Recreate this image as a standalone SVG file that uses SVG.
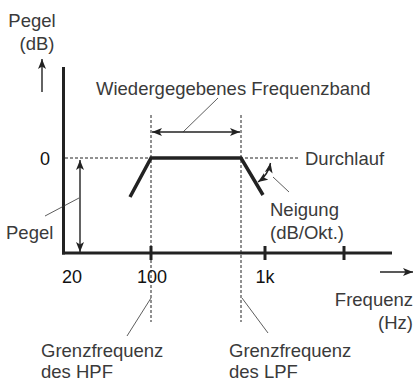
<svg xmlns="http://www.w3.org/2000/svg" width="414" height="383" viewBox="0 0 414 383">
<style>
.t{font-family:"Liberation Sans",Arial,sans-serif;font-size:18.5px;fill:#3a3a3a}
.n{font-family:"Liberation Sans",Arial,sans-serif;font-size:18px;fill:#111}
.ax{stroke:#222;stroke-width:3;fill:none}
.dash{stroke:#222;stroke-width:1;stroke-dasharray:3 2;fill:none}
.ar{stroke:#222;stroke-width:1.4;fill:none}
.ld{stroke:#333;stroke-width:0.8;fill:none}
.curve{stroke:#222;stroke-width:3.5;fill:none;stroke-linecap:butt}
</style>
<defs>
<marker id="ah" viewBox="0 0 10 8" refX="10" refY="4" markerWidth="10" markerHeight="8" markerUnits="userSpaceOnUse" orient="auto-start-reverse">
<path d="M0,0 L10,4 L0,8 L2.5,4 Z" fill="#222"/>
</marker>
</defs>
<g id="axes">
<line class="ax" x1="63.5" y1="67" x2="63.5" y2="254.5"/>
<line class="ax" x1="62" y1="253" x2="392" y2="253"/>
<line class="ax" x1="151" y1="246" x2="151" y2="260"/>
<line class="ax" x1="265" y1="246" x2="265" y2="260"/>
<line class="ax" x1="344" y1="246" x2="344" y2="260"/>
</g>
<g id="connectors">
<line class="dash" x1="151" y1="115" x2="151" y2="322"/>
<line class="dash" x1="241" y1="115" x2="241" y2="322"/>
<line class="dash" x1="65" y1="158" x2="300" y2="158"/>
<line class="ar" x1="42" y1="92" x2="42" y2="59" marker-end="url(#ah)"/>
<line class="ar" x1="152" y1="132" x2="240" y2="132" marker-start="url(#ah)" marker-end="url(#ah)"/>
<line class="ar" x1="80" y1="160" x2="80" y2="252" marker-start="url(#ah)" marker-end="url(#ah)"/>
<line class="ar" x1="380" y1="272" x2="413" y2="272" marker-end="url(#ah)"/>
<path class="ar" d="M270.5,163 A29.5 29.5 0 0 1 258,182" marker-start="url(#ah)" marker-end="url(#ah)"/>
<line class="ld" x1="183" y1="132" x2="218" y2="98"/>
<line class="ld" x1="45" y1="216" x2="79" y2="198"/>
<line class="ld" x1="273" y1="177" x2="289" y2="192"/>
<line class="ld" x1="127" y1="336" x2="151" y2="298"/>
<line class="ld" x1="242" y1="298" x2="268" y2="333"/>
</g>
<g id="curve">
<polyline class="curve" points="130,197 151,158 241,158 263,195"/>
</g>
<g id="labels">
<text class="t" x="32" y="27" text-anchor="middle">Pegel</text>
<text class="t" x="37" y="50" text-anchor="middle">(dB)</text>
<text class="t" x="96" y="95">Wiedergegebenes Frequenzband</text>
<text class="n" x="45" y="165" text-anchor="middle">0</text>
<text class="t" x="305" y="165">Durchlauf</text>
<text class="t" x="270" y="216">Neigung</text>
<text class="t" x="270" y="239">(dB/Okt.)</text>
<text class="t" x="6" y="239">Pegel</text>
<text class="n" x="72" y="283" text-anchor="middle">20</text>
<text class="n" x="152" y="283" text-anchor="middle">100</text>
<text class="n" x="265" y="283" text-anchor="middle">1k</text>
<text class="t" x="413" y="306" text-anchor="end">Frequenz</text>
<text class="t" x="413" y="329" text-anchor="end">(Hz)</text>
<text class="t" x="41" y="357">Grenzfrequenz</text>
<text class="t" x="41" y="378">des HPF</text>
<text class="t" x="229" y="357">Grenzfrequenz</text>
<text class="t" x="229" y="378">des LPF</text>
</g>
</svg>
